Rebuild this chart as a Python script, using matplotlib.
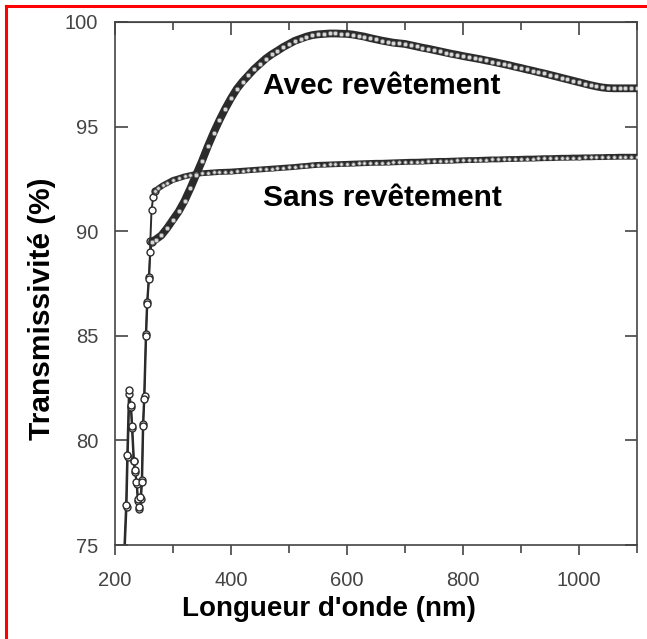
import matplotlib
matplotlib.use("Agg")
import matplotlib.pyplot as plt
from matplotlib.lines import Line2D
from matplotlib.ticker import MultipleLocator

plt.rcParams["font.family"] = ["Liberation Sans", "DejaVu Sans"]

# low-wavelength part (shared oscillation), then the split near 262 nm
avec_nm = [214, 219, 221, 224, 227, 229, 232, 234, 237, 239, 241, 244, 246, 248, 250,
           253, 255, 258, 261, 264, 270, 280, 290, 300, 310, 320, 330, 340, 350,
           360, 370, 380, 390, 400, 410, 420, 430, 440, 450, 460, 470, 480, 490,
           500, 510, 520, 530, 540, 550, 560, 570, 580, 590, 600, 610, 620, 630,
           640, 650, 660, 670, 680, 690, 700, 710, 720, 730, 740, 750, 760, 770,
           780, 790, 800, 810, 820, 830, 840, 850, 860, 870, 880, 890, 900, 910,
           920, 930, 940, 950, 960, 970, 980, 990, 1000, 1010, 1020, 1030, 1040,
           1050, 1060, 1070, 1080, 1090, 1100]
avec_t = [73.5, 76.9, 79.3, 82.4, 81.7, 80.7, 79.0, 78.6, 78.0, 77.2, 76.8, 77.3, 78.0, 80.7, 82.0,
          85.0, 86.5, 87.7, 89.0, 89.5, 89.6, 89.8, 90.15, 90.55, 90.95, 91.45, 92.05, 92.7, 93.35,
          94.05, 94.7, 95.3, 95.85, 96.35, 96.8, 97.15, 97.45, 97.75, 98.0, 98.25, 98.45, 98.62, 98.8,
          98.95, 99.1, 99.2, 99.3, 99.37, 99.41, 99.43, 99.45, 99.45, 99.44, 99.43, 99.4, 99.35, 99.3,
          99.23, 99.17, 99.11, 99.06, 99.01, 98.98, 98.95, 98.89, 98.83, 98.77, 98.72, 98.66, 98.6, 98.54,
          98.48, 98.43, 98.37, 98.32, 98.27, 98.22, 98.16, 98.11, 98.05, 97.99, 97.93, 97.86, 97.8, 97.73,
          97.67, 97.6, 97.54, 97.47, 97.4, 97.33, 97.26, 97.19, 97.12, 97.05, 96.98, 96.92, 96.87,
          96.84, 96.83, 96.83, 96.83, 96.83, 96.83]

sans_nm = [215, 220, 222, 225, 228, 230, 233, 235, 238, 240, 242, 245, 247, 249, 251,
           254, 256, 259, 261, 263, 266, 269, 275, 283, 290, 300, 310, 320, 330, 340,
           350, 360, 370, 380, 390, 400, 410, 420, 430, 440, 450, 460, 470, 480, 490,
           500, 510, 520, 530, 540, 550, 560, 570, 580, 590, 600, 610, 620, 630, 640,
           650, 660, 670, 680, 690, 700, 710, 720, 730, 740, 750, 760, 770, 780, 790,
           800, 810, 820, 830, 840, 850, 860, 870, 880, 890, 900, 910, 920, 930, 940,
           950, 960, 970, 980, 990, 1000, 1010, 1020, 1030, 1040, 1050, 1060, 1070,
           1080, 1090, 1100]
sans_t = [73.5, 76.8, 79.2, 82.2, 81.6, 80.6, 79.0, 78.5, 77.9, 77.1, 76.7, 77.2, 78.1, 80.8, 82.1,
          85.1, 86.6, 87.8, 89.55, 91.0, 91.65, 91.9, 92.05, 92.2, 92.3, 92.45, 92.53, 92.62, 92.68, 92.74,
          92.77, 92.79, 92.81, 92.83, 92.84, 92.85, 92.87, 92.89, 92.91, 92.93, 92.95, 92.97, 92.99, 93.01, 93.03,
          93.05, 93.07, 93.1, 93.12, 93.15, 93.17, 93.18, 93.19, 93.2, 93.21, 93.22, 93.23, 93.24, 93.25, 93.26,
          93.27, 93.27, 93.28, 93.29, 93.3, 93.31, 93.32, 93.32, 93.33, 93.34, 93.35, 93.36, 93.36, 93.37, 93.38,
          93.39, 93.4, 93.4, 93.41, 93.42, 93.43, 93.43, 93.44, 93.45, 93.45, 93.46, 93.47, 93.47, 93.48, 93.49,
          93.49, 93.5, 93.51, 93.51, 93.52, 93.52, 93.53, 93.53, 93.54, 93.54, 93.55, 93.55, 93.56,
          93.56, 93.56, 93.56]

x_ticks = [200, 400, 600, 800, 1000]
y_ticks = [75, 80, 85, 90, 95, 100]

fig = plt.figure(figsize=(6.47, 6.39), dpi=100)
ax = fig.add_axes([0.1777, 0.1471, 0.8068, 0.8185])

ink = "#2b2b2b"


def draw_curve(nm, t, split_at, band_width, dot_size):
    # sparse start: open circles on a thin line
    ax.plot(nm, t, color=ink, lw=1.4, zorder=2)
    low = [i for i, v in enumerate(nm) if v <= split_at]
    ax.plot([nm[i] for i in low], [t[i] for i in low], ls="none", marker="o", ms=5,
            mfc="white", mec=ink, mew=1.0, zorder=3)
    # dense part: dark band speckled with light points
    high = [i for i, v in enumerate(nm) if v >= split_at]
    hx = [nm[i] for i in high]
    hy = [t[i] for i in high]
    ax.plot(hx, hy, color=ink, lw=band_width, solid_capstyle="round", zorder=3)
    ax.plot(hx, hy, ls="none", marker="o", ms=dot_size, mfc="#d8d8d8", mec="#6a6a6a",
            mew=0.5, zorder=4)


draw_curve(sans_nm, sans_t, 269, 4.2, 2.6)
draw_curve(avec_nm, avec_t, 264, 5.6, 3.2)

ax.set_xlim(200, 1100)
ax.set_ylim(75, 100)
ax.set_xticks(x_ticks)
ax.set_yticks(y_ticks)
ax.xaxis.set_minor_locator(MultipleLocator(100))

for side in ax.spines.values():
    side.set_color("#444444")
    side.set_linewidth(1.2)

ax.tick_params(axis="x", which="both", bottom=True, top=False, direction="out",
               color="#444444", width=1.2, labelsize=14.5, labelcolor="#444444", pad=12)
ax.tick_params(axis="x", which="major", length=7)
ax.tick_params(axis="x", which="minor", length=6)
ax.tick_params(axis="y", which="both", left=True, right=True, direction="in",
               color="#444444", width=1.2, length=9, labelsize=14.5, labelcolor="#444444", pad=12)

# top ticks point inward, drawn as a twin axis without labels
top = ax.secondary_xaxis("top")
top.set_xticks(x_ticks)
top.xaxis.set_minor_locator(MultipleLocator(100))
top.tick_params(which="both", direction="in", color="#444444", width=1.2, labeltop=False)
top.tick_params(which="major", length=9)
top.tick_params(which="minor", length=6)
top.spines["top"].set_color("#444444")

ax.set_xlabel("Longueur d'onde (nm)", fontsize=20, fontweight="bold")
ax.set_ylabel("Transmissivité (%)", fontsize=21.5, fontweight="bold")
ax.xaxis.set_label_coords(0.41, -0.097)
ax.yaxis.set_label_coords(-0.113, 0.451)

ax.text(455, 96.94, "Avec revêtement", fontsize=21.5, fontweight="bold", va="center", ha="left")
ax.text(455, 91.59, "Sans revêtement", fontsize=21.5, fontweight="bold", va="center", ha="left")

# red frame on the left and top edges
fig.add_artist(Line2D([5.5 / 647, 5.5 / 647], [0, 1 - 5.5 / 639], color="red", lw=2.2,
                      transform=fig.transFigure))
fig.add_artist(Line2D([5.5 / 647, 1], [1 - 5.5 / 639, 1 - 5.5 / 639], color="red", lw=2.2,
                      transform=fig.transFigure))

fig.savefig("out.png", dpi=100)
